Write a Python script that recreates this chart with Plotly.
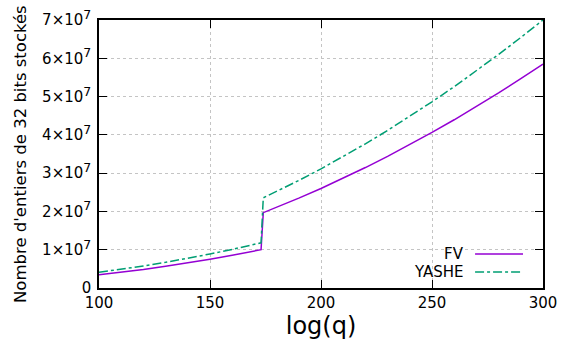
import plotly.graph_objects as go

log_q = [100, 110, 120, 130, 140, 150, 160, 170, 173, 174, 180, 190, 200, 210, 220,
         230, 240, 250, 260, 270, 280, 290, 300]
fv = [3.45e6, 4.1e6, 4.85e6, 5.68e6, 6.57e6, 7.53e6, 8.56e6, 9.65e6, 1.0e7,
      1.968e7, 2.106e7, 2.347e7, 2.6e7, 2.867e7, 3.146e7, 3.439e7, 3.744e7,
      4.063e7, 4.394e7, 4.739e7, 5.096e7, 5.467e7, 5.85e7]
yashe = [4.1e6, 4.9e6, 5.75e6, 6.7e6, 7.75e6, 8.88e6, 1.009e7, 1.139e7, 1.18e7,
         2.355e7, 2.521e7, 2.809e7, 3.112e7, 3.431e7, 3.766e7, 4.116e7, 4.481e7,
         4.863e7, 5.259e7, 5.672e7, 6.099e7, 6.543e7, 7.0e7]

x_ticks = [100, 150, 200, 250, 300]
y_ticks = [0, 1e7, 2e7, 3e7, 4e7, 5e7, 6e7, 7e7]
y_ticktext = ["0"] + [f"{i}×10<sup><span style='font-size:12.5px'>7</span></sup>"
                      for i in range(1, 8)]
y_title = "Nombre d'entiers de 32 bits stockés"

series_names = ["FV", "YASHE"]
series_colors = ["#9400D3", "#009E73"]
series_dash = ["solid", "dashdot"]

font = "DejaVu Sans"
fig = go.Figure()
for name, ys, col, dash in zip(series_names, [fv, yashe], series_colors, series_dash):
    fig.add_trace(go.Scatter(x=log_q, y=ys, mode="lines", name=name,
                             line=dict(color=col, width=1.5, dash=dash),
                             showlegend=False))

# custom gnuplot-style legend (text then sample)
for i, (name, col, dash) in enumerate(zip(series_names, series_colors, series_dash)):
    yp = 0.127 - i * 0.067
    fig.add_annotation(xref="paper", yref="paper", x=0.826, y=yp, text=name,
                       showarrow=False, xanchor="right", yanchor="middle",
                       font=dict(family=font, size=15, color="black"))
    fig.add_shape(type="line", xref="paper", yref="paper", x0=0.847, x1=0.955,
                  y0=yp, y1=yp, line=dict(color=col, width=1.5, dash=dash))

# y-axis title as rotated annotation
fig.add_annotation(xref="paper", yref="paper", x=-0.178, y=0.5, text=y_title,
                   textangle=-90, showarrow=False, xanchor="center", yanchor="middle",
                   font=dict(family=font, size=16.5, color="black"))

axis_common = dict(showline=True, linecolor="black", linewidth=1.5, mirror="allticks",
                   ticks="inside", ticklen=8, tickcolor="black", tickwidth=1,
                   showgrid=True, gridcolor="#c4c4c4", griddash="dot", gridwidth=1,
                   zeroline=False, automargin=False, ticklabeloverflow="allow",
                   tickfont=dict(family=font, size=15, color="black"))

fig.update_xaxes(range=[100, 300], tickvals=x_ticks,
                 title=dict(text="log(q)", font=dict(family=font, size=24, color="black"),
                            standoff=5),
                 **axis_common)
fig.update_yaxes(range=[0, 7e7], tickvals=y_ticks, ticktext=y_ticktext,
                 ticklabelstandoff=3, **axis_common)

fig.update_layout(width=561, height=347, margin=dict(l=99, r=18, t=20, b=59),
                  plot_bgcolor="white", paper_bgcolor="white",
                  font=dict(family=font, color="black"))
fig.write_html("out.html")
